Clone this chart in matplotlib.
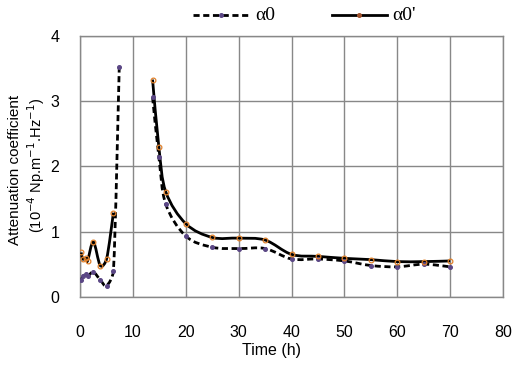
import numpy as np
import matplotlib
matplotlib.use("Agg")
import matplotlib.pyplot as plt
from matplotlib.path import Path
from matplotlib.patches import PathPatch
from matplotlib.lines import Line2D

plt.rcParams['font.family'] = ['Liberation Sans', 'DejaVu Sans']

# alpha0 (dashed), two measured segments
t_a0_1 = [0.2, 0.6, 1.1, 1.5, 2.5, 3.8, 5.0, 6.3, 7.4]
a0_1 = [0.26, 0.32, 0.35, 0.32, 0.38, 0.26, 0.17, 0.40, 3.52]
t_a0_2 = [13.7, 14.9, 16.2, 20, 25, 30, 35, 40, 45, 50, 55, 60, 65, 70]
a0_2 = [3.06, 2.14, 1.42, 0.93, 0.76, 0.74, 0.74, 0.58, 0.58, 0.55, 0.48, 0.46, 0.50, 0.46]

# alpha0' (solid)
t_a1_1 = [0.2, 0.5, 1.1, 1.4, 2.5, 3.8, 5.0, 6.3]
a1_1 = [0.68, 0.58, 0.59, 0.55, 0.84, 0.48, 0.58, 1.29]
t_a1_2 = [13.7, 14.9, 16.2, 20, 25, 30, 35, 40, 45, 50, 55, 60, 65, 70]
a1_2 = [3.33, 2.29, 1.61, 1.12, 0.91, 0.90, 0.87, 0.65, 0.62, 0.59, 0.57, 0.54, 0.54, 0.55]

col_a0 = "#5b4785"
col_a1 = "#e0802a"
dash = (0, (2.2, 1.3))


def smooth_path(x, y, sx=423 / 80, sy=261 / 4):
    # excel style smoothed line, bezier through points, tangents clamped
    p = np.column_stack([np.array(x) * sx, np.array(y) * sy]).astype(float)
    n = len(p)
    verts = [p[0]]
    codes = [Path.MOVETO]
    for i in range(n - 1):
        seg = np.hypot(*(p[i + 1] - p[i]))
        p0 = p[i - 1] if i > 0 else p[i]
        p3 = p[i + 2] if i + 2 < n else p[i + 1]
        d1 = (p[i + 1] - p0) / 6.0
        d2 = (p3 - p[i]) / 6.0
        for d in (d1, d2):
            ln = np.hypot(*d)
            if ln > 0.4 * seg:
                d *= 0.4 * seg / ln
        verts += [p[i] + d1, p[i + 1] - d2, p[i + 1]]
        codes += [Path.CURVE4] * 3
    verts = np.array(verts) / [sx, sy]
    return Path(verts, codes)


fig = plt.figure(figsize=(5.17, 3.66), dpi=100)
ax = fig.add_axes([0.155, 0.189, 0.818, 0.713])

for tx, vy in [(t_a0_1, a0_1), (t_a0_2, a0_2)]:
    ax.add_patch(PathPatch(smooth_path(tx, vy), fill=False, ec="black", lw=2.0,
                           ls=dash, zorder=3))
    ax.plot(tx, vy, ls="none", marker="o", ms=2.6, mfc=col_a0, mec=col_a0, zorder=4)

for tx, vy in [(t_a1_1, a1_1), (t_a1_2, a1_2)]:
    ax.add_patch(PathPatch(smooth_path(tx, vy), fill=False, ec="black", lw=2.0, zorder=3))
    ax.plot(tx, vy, ls="none", marker="o", ms=3.4, mfc="none", mec=col_a1, mew=0.9, zorder=4)

ax.set_xlim(0, 80)
ax.set_ylim(0, 4)
ax.set_xticks(range(0, 81, 10))
ax.set_yticks(range(0, 5))
ax.grid(True, color="#888888", lw=1.0)
ax.set_axisbelow(True)
for s in ax.spines.values():
    s.set_color("#888888")
    s.set_linewidth(1.0)
ax.tick_params(length=0, labelsize=11.5)
ax.tick_params(axis="x", pad=20)
ax.tick_params(axis="y", pad=15)

fig.text(272 / 517, 1 - 350 / 366, "Time (h)", ha="center", va="center", fontsize=11.5)
fig.text(15 / 517, 1 - 170 / 366, "Attenuation coefficient", rotation=90,
         ha="center", va="center", fontsize=11)
fig.text(36 / 517, 1 - 165 / 366, r"(10$^{-4}$ Np.m$^{-1}$.Hz$^{-1}$)", rotation=90,
         ha="center", va="center", fontsize=10.5)

# legend drawn by hand above the plot
ly = 1 - 15 / 366
fig.add_artist(Line2D([193 / 517, 250 / 517], [ly, ly], color="black", lw=2.0, ls=dash))
fig.add_artist(Line2D([221 / 517], [ly], ls="none", marker="o", ms=2.6,
                      mfc=col_a0, mec=col_a0))
fig.text(255 / 517, ly, "α0", ha="left", va="center", fontsize=14,
         family="Liberation Serif")
fig.add_artist(Line2D([332 / 517, 387 / 517], [ly, ly], color="black", lw=2.0))
fig.add_artist(Line2D([359 / 517], [ly], ls="none", marker="o", ms=2.6,
                      mfc="#a0522d", mec="#a0522d"))
fig.text(392 / 517, ly, "α0'", ha="left", va="center", fontsize=14,
         family="Liberation Serif")

fig.savefig("out.png", dpi=100)
